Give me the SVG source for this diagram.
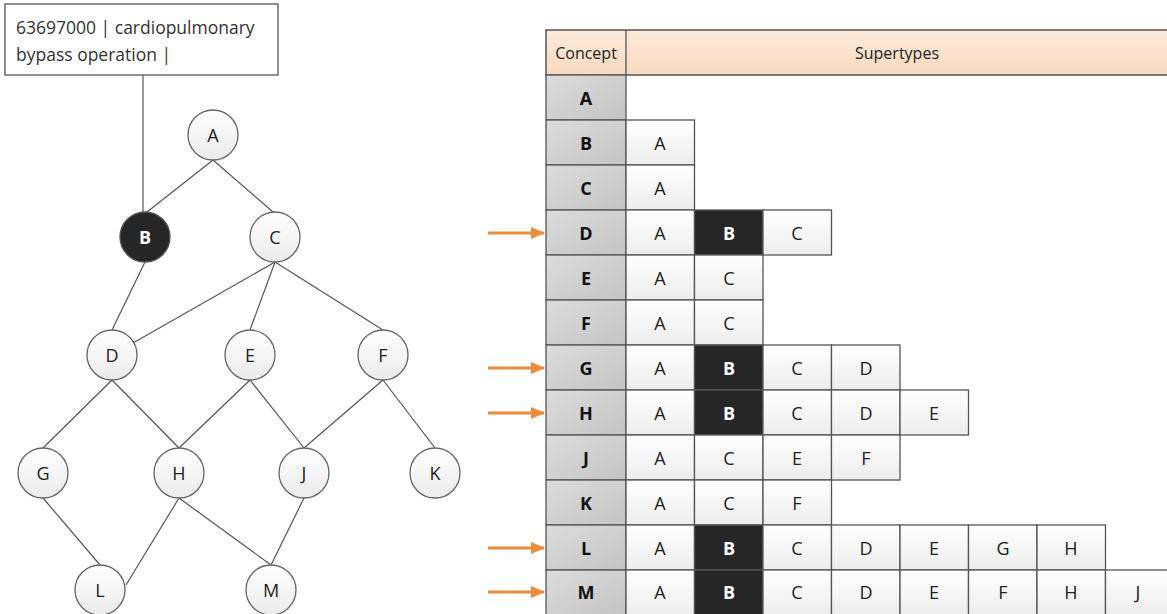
<svg xmlns="http://www.w3.org/2000/svg" width="1167" height="614" viewBox="0 0 1167 614">
<defs>
<linearGradient id="gNode" x1="0" y1="0" x2="0" y2="1"><stop offset="0" stop-color="#ffffff"/><stop offset="1" stop-color="#ebebeb"/></linearGradient>
<linearGradient id="gCell" x1="0" y1="0" x2="0" y2="1"><stop offset="0" stop-color="#ffffff"/><stop offset="1" stop-color="#ededed"/></linearGradient>
<linearGradient id="gCon" x1="0" y1="0" x2="1" y2="1"><stop offset="0" stop-color="#dcdcdc"/><stop offset="1" stop-color="#c4c4c4"/></linearGradient>
<linearGradient id="gHead" x1="0" y1="0" x2="0" y2="1"><stop offset="0" stop-color="#fdeadb"/><stop offset="1" stop-color="#f8d9c0"/></linearGradient>
<marker id="arr" markerWidth="14" markerHeight="12" refX="13" refY="6" orient="auto" markerUnits="userSpaceOnUse"><path d="M0,0 L14,6 L0,12 Z" fill="#ed8c3c"/></marker>
</defs>
<style>
.node{fill:url(#gNode);stroke:#666;stroke-width:1.3}
.dark{fill:#262626;stroke:#555;stroke-width:1.3}
.lbl{font-family:"Open Sans","Liberation Sans",sans-serif;font-size:18px;fill:#222;text-anchor:middle;dominant-baseline:central}
.lblw{font-family:"Open Sans","Liberation Sans",sans-serif;font-size:18px;fill:#fff;text-anchor:middle;dominant-baseline:central;font-weight:bold}
.edge{stroke:#555;stroke-width:1.2;fill:none}
.cell{fill:url(#gCell);stroke:#555;stroke-width:1.3}
.bcell{fill:#262626;stroke:#555;stroke-width:1.3}
.con{fill:url(#gCon);stroke:#555;stroke-width:1.3}
.conT{font-family:"Open Sans","Liberation Sans",sans-serif;font-size:18px;font-weight:bold;fill:#111;text-anchor:middle;dominant-baseline:central}
.hdr{font-family:"Open Sans","Liberation Sans",sans-serif;font-size:16px;fill:#222;text-anchor:middle;dominant-baseline:central}
.arrow{stroke:#ed8c3c;stroke-width:3;fill:none}
.note{font-family:"Open Sans","Liberation Sans",sans-serif;font-size:17.5px;fill:#333}
</style>

<g id="connectors">
<line class="edge" x1="143" y1="75" x2="143" y2="212"/>
<line class="edge" x1="213" y1="160" x2="147" y2="212"/>
<line class="edge" x1="213" y1="160" x2="273" y2="212"/>
<line class="edge" x1="145" y1="262" x2="112" y2="330"/>
<line class="edge" x1="275" y1="262" x2="112" y2="355"/>
<line class="edge" x1="275" y1="262" x2="250" y2="330"/>
<line class="edge" x1="275" y1="262" x2="383" y2="330"/>
<line class="edge" x1="112" y1="380" x2="43" y2="448"/>
<line class="edge" x1="112" y1="380" x2="179" y2="448"/>
<line class="edge" x1="250" y1="380" x2="179" y2="448"/>
<line class="edge" x1="250" y1="380" x2="304" y2="448"/>
<line class="edge" x1="383" y1="380" x2="304" y2="448"/>
<line class="edge" x1="383" y1="380" x2="435" y2="448"/>
<line class="edge" x1="43" y1="498" x2="100" y2="565"/>
<line class="edge" x1="179" y1="498" x2="126" y2="585"/>
<line class="edge" x1="179" y1="498" x2="271" y2="565"/>
<line class="edge" x1="304" y1="498" x2="271" y2="565"/>
</g>

<g id="note">
<rect x="5" y="4" width="273" height="71" fill="#fff" stroke="#555" stroke-width="1.3"/>
<text class="note" x="16" y="34">63697000 | cardiopulmonary</text>
<text class="note" x="16" y="61">bypass operation |</text>
</g>

<g id="node-A"><circle class="node" cx="213" cy="135" r="25"/><text class="lbl" x="213" y="135">A</text></g>
<g id="node-B"><circle class="dark" cx="145" cy="237" r="25"/><text class="lblw" x="145" y="237">B</text></g>
<g id="node-C"><circle class="node" cx="275" cy="237" r="25"/><text class="lbl" x="275" y="237">C</text></g>
<g id="node-D"><circle class="node" cx="112" cy="355" r="25"/><text class="lbl" x="112" y="355">D</text></g>
<g id="node-E"><circle class="node" cx="250" cy="355" r="25"/><text class="lbl" x="250" y="355">E</text></g>
<g id="node-F"><circle class="node" cx="383" cy="355" r="25"/><text class="lbl" x="383" y="355">F</text></g>
<g id="node-G"><circle class="node" cx="43" cy="473" r="25"/><text class="lbl" x="43" y="473">G</text></g>
<g id="node-H"><circle class="node" cx="179" cy="473" r="25"/><text class="lbl" x="179" y="473">H</text></g>
<g id="node-J"><circle class="node" cx="304" cy="473" r="25"/><text class="lbl" x="304" y="473">J</text></g>
<g id="node-K"><circle class="node" cx="435" cy="473" r="25"/><text class="lbl" x="435" y="473">K</text></g>
<g id="node-L"><circle class="node" cx="100" cy="590" r="25"/><text class="lbl" x="100" y="590">L</text></g>
<g id="node-M"><circle class="node" cx="271" cy="590" r="25"/><text class="lbl" x="271" y="590">M</text></g>

<g id="table">
<rect x="546" y="30" width="630" height="45" fill="url(#gHead)" stroke="#555" stroke-width="1.5"/>
<line x1="626" y1="30" x2="626" y2="75" stroke="#555" stroke-width="1.3"/>
<text class="hdr" x="586" y="53">Concept</text>
<text class="hdr" x="897" y="53">Supertypes</text>

<g id="row-A"><rect class="con" x="546" y="75" width="80" height="45"/><text class="conT" x="586" y="98">A</text></g>

<g id="row-B"><rect class="con" x="546" y="120" width="80" height="45"/><text class="conT" x="586" y="143">B</text>
<rect class="cell" x="626" y="120" width="68.5" height="45"/><text class="lbl" x="660" y="143">A</text></g>

<g id="row-C"><rect class="con" x="546" y="165" width="80" height="45"/><text class="conT" x="586" y="188">C</text>
<rect class="cell" x="626" y="165" width="68.5" height="45"/><text class="lbl" x="660" y="188">A</text></g>

<g id="row-D"><rect class="con" x="546" y="210" width="80" height="45"/><text class="conT" x="586" y="233">D</text>
<rect class="cell" x="626" y="210" width="68.5" height="45"/><text class="lbl" x="660" y="233">A</text>
<rect class="bcell" x="694.5" y="210" width="68.5" height="45"/><text class="lblw" x="729" y="233">B</text>
<rect class="cell" x="763" y="210" width="68.5" height="45"/><text class="lbl" x="797" y="233">C</text></g>

<g id="row-E"><rect class="con" x="546" y="255" width="80" height="45"/><text class="conT" x="586" y="278">E</text>
<rect class="cell" x="626" y="255" width="68.5" height="45"/><text class="lbl" x="660" y="278">A</text>
<rect class="cell" x="694.5" y="255" width="68.5" height="45"/><text class="lbl" x="729" y="278">C</text></g>

<g id="row-F"><rect class="con" x="546" y="300" width="80" height="45"/><text class="conT" x="586" y="323">F</text>
<rect class="cell" x="626" y="300" width="68.5" height="45"/><text class="lbl" x="660" y="323">A</text>
<rect class="cell" x="694.5" y="300" width="68.5" height="45"/><text class="lbl" x="729" y="323">C</text></g>

<g id="row-G"><rect class="con" x="546" y="345" width="80" height="45"/><text class="conT" x="586" y="368">G</text>
<rect class="cell" x="626" y="345" width="68.5" height="45"/><text class="lbl" x="660" y="368">A</text>
<rect class="bcell" x="694.5" y="345" width="68.5" height="45"/><text class="lblw" x="729" y="368">B</text>
<rect class="cell" x="763" y="345" width="68.5" height="45"/><text class="lbl" x="797" y="368">C</text>
<rect class="cell" x="831.5" y="345" width="68.5" height="45"/><text class="lbl" x="866" y="368">D</text></g>

<g id="row-H"><rect class="con" x="546" y="390" width="80" height="45"/><text class="conT" x="586" y="413">H</text>
<rect class="cell" x="626" y="390" width="68.5" height="45"/><text class="lbl" x="660" y="413">A</text>
<rect class="bcell" x="694.5" y="390" width="68.5" height="45"/><text class="lblw" x="729" y="413">B</text>
<rect class="cell" x="763" y="390" width="68.5" height="45"/><text class="lbl" x="797" y="413">C</text>
<rect class="cell" x="831.5" y="390" width="68.5" height="45"/><text class="lbl" x="866" y="413">D</text>
<rect class="cell" x="900" y="390" width="68.5" height="45"/><text class="lbl" x="934" y="413">E</text></g>

<g id="row-J"><rect class="con" x="546" y="435" width="80" height="45"/><text class="conT" x="586" y="458">J</text>
<rect class="cell" x="626" y="435" width="68.5" height="45"/><text class="lbl" x="660" y="458">A</text>
<rect class="cell" x="694.5" y="435" width="68.5" height="45"/><text class="lbl" x="729" y="458">C</text>
<rect class="cell" x="763" y="435" width="68.5" height="45"/><text class="lbl" x="797" y="458">E</text>
<rect class="cell" x="831.5" y="435" width="68.5" height="45"/><text class="lbl" x="866" y="458">F</text></g>

<g id="row-K"><rect class="con" x="546" y="480" width="80" height="45"/><text class="conT" x="586" y="503">K</text>
<rect class="cell" x="626" y="480" width="68.5" height="45"/><text class="lbl" x="660" y="503">A</text>
<rect class="cell" x="694.5" y="480" width="68.5" height="45"/><text class="lbl" x="729" y="503">C</text>
<rect class="cell" x="763" y="480" width="68.5" height="45"/><text class="lbl" x="797" y="503">F</text></g>

<g id="row-L"><rect class="con" x="546" y="525" width="80" height="45"/><text class="conT" x="586" y="548">L</text>
<rect class="cell" x="626" y="525" width="68.5" height="45"/><text class="lbl" x="660" y="548">A</text>
<rect class="bcell" x="694.5" y="525" width="68.5" height="45"/><text class="lblw" x="729" y="548">B</text>
<rect class="cell" x="763" y="525" width="68.5" height="45"/><text class="lbl" x="797" y="548">C</text>
<rect class="cell" x="831.5" y="525" width="68.5" height="45"/><text class="lbl" x="866" y="548">D</text>
<rect class="cell" x="900" y="525" width="68.5" height="45"/><text class="lbl" x="934" y="548">E</text>
<rect class="cell" x="968.5" y="525" width="68.5" height="45"/><text class="lbl" x="1003" y="548">G</text>
<rect class="cell" x="1037" y="525" width="68.5" height="45"/><text class="lbl" x="1071" y="548">H</text></g>

<g id="row-M"><rect class="con" x="546" y="570" width="80" height="45"/><text class="conT" x="586" y="592">M</text>
<rect class="cell" x="626" y="570" width="68.5" height="45"/><text class="lbl" x="660" y="592">A</text>
<rect class="bcell" x="694.5" y="570" width="68.5" height="45"/><text class="lblw" x="729" y="592">B</text>
<rect class="cell" x="763" y="570" width="68.5" height="45"/><text class="lbl" x="797" y="592">C</text>
<rect class="cell" x="831.5" y="570" width="68.5" height="45"/><text class="lbl" x="866" y="592">D</text>
<rect class="cell" x="900" y="570" width="68.5" height="45"/><text class="lbl" x="934" y="592">E</text>
<rect class="cell" x="968.5" y="570" width="68.5" height="45"/><text class="lbl" x="1003" y="592">F</text>
<rect class="cell" x="1037" y="570" width="68.5" height="45"/><text class="lbl" x="1071" y="592">H</text>
<rect class="cell" x="1105.5" y="570" width="68.5" height="45"/><text class="lbl" x="1138" y="592">J</text></g>
</g>

<g id="arrows">
<line class="arrow" x1="488" y1="233" x2="544" y2="233" marker-end="url(#arr)"/>
<line class="arrow" x1="488" y1="368" x2="544" y2="368" marker-end="url(#arr)"/>
<line class="arrow" x1="488" y1="413" x2="544" y2="413" marker-end="url(#arr)"/>
<line class="arrow" x1="488" y1="548" x2="544" y2="548" marker-end="url(#arr)"/>
<line class="arrow" x1="488" y1="592" x2="544" y2="592" marker-end="url(#arr)"/>
</g>
</svg>
